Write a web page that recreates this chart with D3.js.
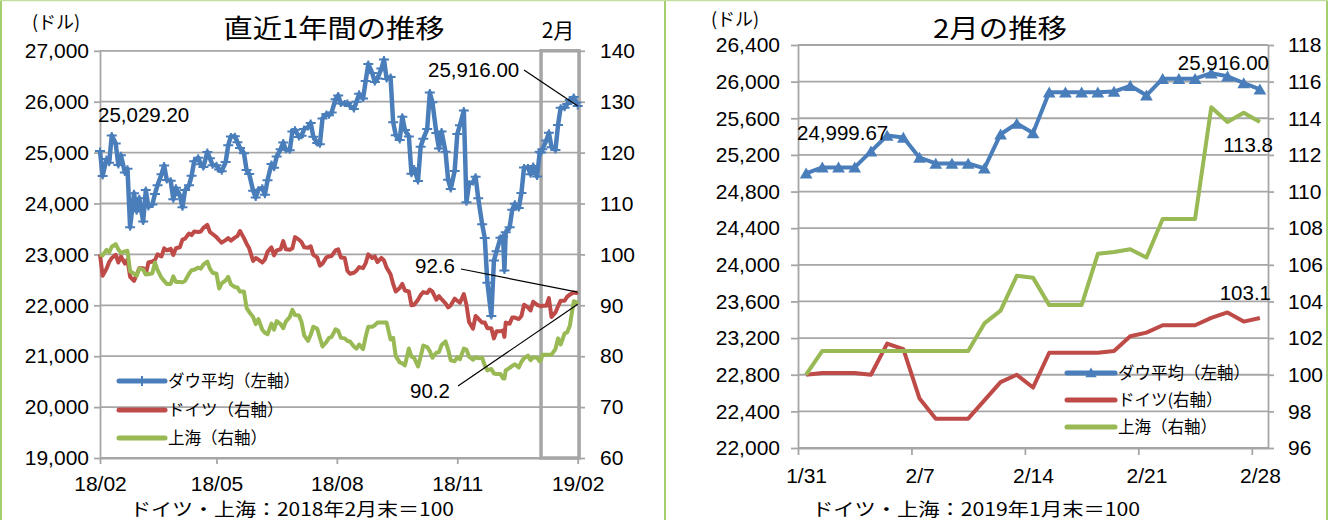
<!DOCTYPE html>
<html><head><meta charset="utf-8">
<script src="https://cdn.jsdelivr.net/npm/d3@7"></script>
<style>
html,body{margin:0;padding:0;background:#fff;}
svg{display:block;}
</style></head><body>
<svg id="c" width="1337" height="520"></svg>
<script>
// ---------- DATA: left chart (last 12 months) ----------
const datesY = ["180228","180302","180305","180307","180309","180312","180314","180316","180319","180321","180323","180326","180328","180330",
"180402","180404","180406","180409","180411","180413","180416","180418","180420","180423","180425","180427","180430",
"180502","180504","180507","180509","180511","180514","180516","180518","180521","180523","180525","180528","180530",
"180601","180604","180606","180608","180611","180613","180615","180618","180620","180622","180625","180627","180629",
"180702","180704","180706","180709","180711","180713","180716","180718","180720","180723","180725","180727","180730",
"180801","180803","180806","180808","180810","180813","180815","180817","180820","180822","180824","180827","180829","180831",
"180903","180905","180907","180910","180912","180914","180917","180919","180921","180924","180926","180928",
"181001","181003","181005","181008","181010","181012","181015","181017","181019","181022","181024","181026","181029","181031",
"181102","181105","181107","181109","181112","181114","181116","181119","181121","181123","181126","181128","181130",
"181203","181205","181207","181210","181212","181214","181217","181219","181221","181224","181226","181228","181231",
"190102","190103","190104","190107","190109","190111","190114","190116","190118","190121","190123","190125","190128","190130","190131",
"190201","190204","190206","190208","190211","190213","190215","190218","190220","190222","190225","190227","190228"];
const dowY = [25029,24538,24874,24801,25335,25178,24758,24946,24610,24683,23533,24202,23849,24103,
23644,24264,23933,23979,24189,24361,24573,24748,24463,24449,24084,24311,24163,
23925,24263,24358,24543,24831,24900,24769,24715,25013,24887,24753,24753,24668,
24635,24814,25146,25317,25322,25201,25090,24988,24657,24580,24252,24117,24271,
24307,24174,24456,24776,24700,24924,25064,25199,25058,25044,25414,25451,25307,
25333,25463,25502,25583,25313,25187,25162,25669,25758,25733,25790,26049,26124,25965,
25965,25975,25917,25857,25999,26154,26062,26405,26743,26562,26385,26458,
26651,26828,26447,26486,25598,25340,25250,25706,25444,25317,24583,24688,24443,25116,
25271,25462,26180,25989,25387,25081,25413,25018,24465,24286,24640,25366,25538,
25826,24027,24389,24423,24527,24101,23593,23324,22445,21792,22878,23062,23327,
23346,22686,23433,23531,23879,23996,23910,24207,24706,24706,24575,24737,24528,25015,25000,
25064,25239,25390,25106,25053,25543,25883,25883,25954,26031,26092,25985,25916];
const daxY = [100,95.8,97.2,98.5,99.3,99.9,98.4,99.6,98.2,99.0,95.6,94.8,96.0,97.3,
97.3,96.1,98.4,98.6,98.9,100.0,99.6,101.2,100.8,101.1,99.9,101.2,101.4,
102.9,103.1,104.1,103.8,104.5,104.4,104.5,105.2,105.8,104.4,104.0,103.4,102.8,
102.3,102.8,103.2,102.7,103.3,103.6,104.6,103.2,102.1,101.2,98.7,99.3,99.0,
98.4,99.0,100.5,101.4,99.8,100.8,101.0,102.6,101.0,100.9,101.2,103.4,102.9,
102.4,101.4,101.3,101.6,99.9,99.4,97.8,98.2,99.4,99.6,99.7,100.8,101.0,99.4,
99.3,96.8,96.2,96.4,96.8,97.5,97.3,98.3,100.0,99.3,99.6,98.5,
99.3,98.8,97.4,96.1,94.2,92.7,93.4,94.2,92.9,92.7,90.0,90.1,91.1,92.0,
92.6,92.4,93.1,92.7,91.1,91.8,91.2,90.4,89.6,90.0,91.3,90.9,90.5,
92.2,90.1,86.7,85.4,87.9,87.4,86.6,86.6,85.5,85.5,83.5,84.9,84.9,
85.1,83.8,86.6,86.4,87.6,87.6,87.3,87.9,90.1,89.6,89.0,90.7,90.1,89.9,89.8,
89.9,89.9,91.4,87.7,88.6,89.8,90.9,90.9,91.7,92.1,92.5,92.4,92.6];
const shY = [100,99.8,100.9,100.4,101.5,102.0,101.0,100.3,100.6,100.7,96.7,96.2,95.8,97.2,
97.0,96.1,96.1,96.3,98.4,96.9,95.4,94.8,94.2,94.2,95.7,94.6,94.6,
94.5,94.8,96.2,96.9,97.0,97.4,97.2,98.0,98.6,97.2,96.4,96.2,93.3,
94.3,94.9,95.6,94.1,93.6,93.5,92.7,92.7,89.5,88.7,87.7,86.3,87.3,
85.2,84.6,84.3,86.4,85.2,86.9,86.3,85.5,86.8,87.7,89.1,88.1,88.0,
86.7,84.1,83.0,84.2,85.8,85.4,83.6,81.9,82.8,83.6,83.8,85.3,85.0,83.6,
83.5,83.0,82.9,81.9,81.5,82.3,81.4,83.8,85.8,85.8,86.1,86.6,
86.6,86.6,86.6,83.3,83.6,80.0,78.8,78.6,78.2,81.5,79.9,79.7,78.0,79.9,
82.1,81.8,81.0,79.7,80.7,80.8,82.2,82.9,81.3,79.2,79.0,79.8,79.4,
81.5,81.3,79.9,79.3,79.8,79.6,79.7,78.2,77.2,77.5,76.6,76.5,76.5,
75.6,75.6,77.2,77.7,78.1,78.4,77.8,78.9,79.6,80.1,79.2,79.8,79.7,79.0,79.3,
80.3,80.3,80.3,80.3,81.4,83.5,82.3,84.5,84.7,86.0,90.8,90.6,90.2];
const yTicksL = [19000,20000,21000,22000,23000,24000,25000,26000,27000];
const yTicksL2 = [60,70,80,90,100,110,120,130,140];
const xTicksL = ["180228","180528","180828","181128","190228"];

// ---------- DATA: right chart (February) ----------
const daysM = ["190131","190201","190202","190203","190204","190205","190206","190207","190208","190209","190210",
"190211","190212","190213","190214","190215","190216","190217","190218","190219","190220","190221","190222","190223","190224",
"190225","190226","190227","190228"];
const dowM = [24999.67,25063.89,25063.89,25063.89,25239.37,25411.52,25390.30,25169.53,25106.33,25106.33,25106.33,
25053.11,25425.76,25543.27,25439.39,25883.25,25883.25,25883.25,25883.25,25891.32,25954.44,25850.63,26031.81,26031.81,26031.81,
26091.95,26057.98,25985.16,25916.00];
const daxM = [100,100.1,100.1,100.1,100.0,101.7,101.4,98.7,97.6,97.6,97.6,
98.6,99.6,100.0,99.3,101.2,101.2,101.2,101.2,101.3,102.1,102.3,102.7,102.7,102.7,
103.1,103.4,102.9,103.1];
const shM = [100,101.3,101.3,101.3,101.3,101.3,101.3,101.3,101.3,101.3,101.3,
102.8,103.5,105.4,105.3,103.8,103.8,103.8,106.6,106.7,106.85,106.4,108.5,108.5,108.5,
114.6,113.8,114.3,113.8];
const yTicksM = [22000,22400,22800,23200,23600,24000,24400,24800,25200,25600,26000,26400];
const yTicksM2 = [96,98,100,102,104,106,108,110,112,114,116,118];
const xTicksM = ["190131","190207","190214","190221","190228"];

const seriesNames = ["ダウ平均（左軸）","ドイツ（右軸）","上海（右軸）"];
const seriesNamesM = ["ダウ平均（左軸）","ドイツ(右軸）","上海（右軸）"];

// ---------- STYLE ----------
const BLUE = "#4a7ebb", RED = "#be4b48", GREEN = "#98b954";
const GRID = "#a6a6a6";
const FN = "'Liberation Sans', Arial, sans-serif";
const FJ = "'Noto Sans CJK JP', 'Noto Sans', sans-serif";

const parse = d3.timeParse("%y%m%d");
const svg = d3.select("#c");
svg.append("rect").attr("width",1337).attr("height",520).attr("fill","#fff");

function styleAxis(sel, size){
  sel.attr("font-size", null).attr("font-family", null);
  sel.select(".domain").attr("stroke", GRID).attr("stroke-width", 1.8);
  sel.selectAll(".tick line").attr("stroke", GRID).attr("stroke-width", 1.8);
  sel.selectAll(".tick text").attr("font-family", FN).attr("font-size", size).attr("fill", "#000");
}
function txt(g, x, y, s, o){
  o = o || {};
  const t = g.append("text").attr("x", x).attr("y", y).text(s)
    .attr("font-family", o.font || FN).attr("font-size", o.size || 20)
    .attr("text-anchor", o.anchor || "start").attr("fill", "#000");
  if (o.len) t.attr("textLength", o.len).attr("lengthAdjust", "spacingAndGlyphs");
  return t;
}
const plusPath = "M-5,0H5M0,-3.5V3.5";

// panel frames
svg.append("line").attr("x1",1).attr("x2",1).attr("y1",0).attr("y2",520).attr("stroke","#a3d06c").attr("stroke-width",2);
svg.append("line").attr("x1",665).attr("x2",665).attr("y1",0).attr("y2",520).attr("stroke","#a3d06c").attr("stroke-width",2);
svg.append("line").attr("x1",1327).attr("x2",1327).attr("y1",0).attr("y2",520).attr("stroke","#a3d06c").attr("stroke-width",2);
svg.append("line").attr("x1",0).attr("x2",1328).attr("y1",0.5).attr("y2",0.5).attr("stroke","#c2e09c").attr("stroke-width",1.5);

// ================= LEFT CHART =================
(function(){
  const g = svg.append("g");
  const xL = d3.scaleTime().domain([parse("180228"), parse("190301")]).range([100, 579]);
  const yL = d3.scaleLinear().domain([19000, 27000]).range([458, 50.8]);
  const yL2 = d3.scaleLinear().domain([60, 140]).range([458, 50.8]);

  g.selectAll("line.grid").data(yTicksL).join("line").attr("class","grid")
    .attr("x1", 100).attr("x2", 579).attr("y1", d => yL(d)).attr("y2", d => yL(d))
    .attr("stroke", GRID).attr("stroke-width", 1.8);

  const aL = g.append("g").attr("transform","translate(100,0)")
    .call(d3.axisLeft(yL).tickValues(yTicksL).tickSize(6).tickPadding(5).tickSizeOuter(0).tickFormat(d3.format(",")));
  styleAxis(aL, 21);
  const aR = g.append("g").attr("transform","translate(579,0)")
    .call(d3.axisRight(yL2).tickValues(yTicksL2).tickSize(6).tickPadding(15).tickSizeOuter(0));
  styleAxis(aR, 21);
  const aX = g.append("g").attr("transform","translate(0,458)")
    .call(d3.axisBottom(xL).tickValues(xTicksL.map(parse)).tickSize(6).tickPadding(12).tickSizeOuter(0).tickFormat(d3.timeFormat("%y/%m")));
  styleAxis(aX, 21);

  // February highlight box
  const bx = xL(parse("190131"));
  g.append("rect").attr("x", bx).attr("y", yL(27000)).attr("width", xL(parse("190301")) - bx)
    .attr("height", yL(19000) - yL(27000)).attr("fill","none").attr("stroke","#a6a6a6").attr("stroke-width",3.5);

  const pts = (vals) => vals.map((v,i) => ({d: parse(datesY[i]), v}));
  const dDow = pts(dowY), dDax = pts(daxY), dSh = pts(shY);
  const lineL = d3.line().x(p => xL(p.d)).y(p => yL(p.v));
  const lineR = d3.line().x(p => xL(p.d)).y(p => yL2(p.v));

  g.append("path").datum(dDow).attr("d", lineL).attr("fill","none").attr("stroke",BLUE).attr("stroke-width",4.5).attr("stroke-linejoin","round");
  g.selectAll("path.mk").data(dDow).join("path").attr("class","mk")
    .attr("transform", p => `translate(${xL(p.d)},${yL(p.v)})`).attr("d", plusPath)
    .attr("stroke", BLUE).attr("stroke-width", 2).attr("fill","none");
  g.append("path").datum(dDax).attr("d", lineR).attr("fill","none").attr("stroke",RED).attr("stroke-width",4).attr("stroke-linejoin","round");
  g.append("path").datum(dSh).attr("d", lineR).attr("fill","none").attr("stroke",GREEN).attr("stroke-width",4).attr("stroke-linejoin","round");

  // annotations
  const last = dDow.length - 1;
  const xe = xL(dDow[last].d);
  txt(g, 98, 122, "25,029.20", {size: 20.5});
  txt(g, 428, 77, "25,916.00", {size: 20.5});
  g.append("line").attr("x1",524).attr("y1",70).attr("x2",xe).attr("y2",yL(dowY[last])).attr("stroke","#000").attr("stroke-width",1.2);
  txt(g, 415, 273, "92.6", {size: 20.5});
  g.append("line").attr("x1",461).attr("y1",269).attr("x2",xe).attr("y2",yL2(daxY[last])).attr("stroke","#000").attr("stroke-width",1.2);
  txt(g, 410, 398, "90.2", {size: 20.5});
  g.append("line").attr("x1",458).attr("y1",386).attr("x2",xe).attr("y2",yL2(shY[last])).attr("stroke","#000").attr("stroke-width",1.2);

  // titles
  txt(g, 334, 38, "直近1年間の推移", {font: FJ, size: 26, anchor: "middle", len: 221});
  txt(g, 32, 29, "(ドル)", {font: FJ, size: 18});
  txt(g, 558, 38, "2月", {font: FJ, size: 21, anchor: "middle"});
  txt(g, 292, 516, "ドイツ・上海：2018年2月末＝100", {font: FJ, size: 18, anchor: "middle", len: 324});

  // legend
  const cols = [BLUE, RED, GREEN];
  const ly = [381, 410, 438];
  seriesNames.forEach((n,i) => {
    g.append("line").attr("x1",119).attr("x2",165).attr("y1",ly[i]).attr("y2",ly[i])
      .attr("stroke",cols[i]).attr("stroke-width",5).attr("stroke-linecap","round");
    if (i === 0) g.append("path").attr("transform",`translate(142,${ly[i]})`).attr("d","M0,-5V5").attr("stroke",BLUE).attr("stroke-width",2);
    txt(g, 168, ly[i] + 6, n, {font: FJ, size: 16.5});
  });
})();

// ================= RIGHT CHART =================
(function(){
  const g = svg.append("g");
  const xR = d3.scaleTime().domain([parse("190131"), parse("190301")]).range([798, 1268]);
  const yR = d3.scaleLinear().domain([22000, 26400]).range([448, 45]);
  const yR2 = d3.scaleLinear().domain([96, 118]).range([448, 45]);
  const half = (xR(parse("190201")) - xR(parse("190131"))) / 2;

  g.selectAll("line.grid").data(yTicksM).join("line").attr("class","grid")
    .attr("x1", 798).attr("x2", 1268).attr("y1", d => yR(d)).attr("y2", d => yR(d))
    .attr("stroke", GRID).attr("stroke-width", 1.8);

  const aL = g.append("g").attr("transform","translate(798,0)")
    .call(d3.axisLeft(yR).tickValues(yTicksM).tickSize(7).tickPadding(11).tickSizeOuter(0).tickFormat(d3.format(",")));
  styleAxis(aL, 21);
  const aR = g.append("g").attr("transform","translate(1268,0)")
    .call(d3.axisRight(yR2).tickValues(yTicksM2).tickSize(6).tickPadding(14).tickSizeOuter(0));
  styleAxis(aR, 21);
  const aX = g.append("g").attr("transform","translate(0,448)")
    .call(d3.axisBottom(xR).tickValues(xTicksM.map(parse)).tickSize(7).tickPadding(13).tickSizeOuter(0).tickFormat(d3.timeFormat("%-m/%-d")));
  styleAxis(aX, 21);
  aX.selectAll(".tick text").attr("x", half);

  const pts = (vals) => vals.map((v,i) => ({d: parse(daysM[i]), v}));
  const dDow = pts(dowM), dDax = pts(daxM), dSh = pts(shM);
  const X = p => xR(p.d) + half;
  const lineL = d3.line().x(X).y(p => yR(p.v));
  const lineR = d3.line().x(X).y(p => yR2(p.v));

  g.append("path").datum(dDow).attr("d", lineL).attr("fill","none").attr("stroke",BLUE).attr("stroke-width",4).attr("stroke-linejoin","round");
  g.selectAll("path.mk").data(dDow).join("path").attr("class","mk")
    .attr("transform", p => `translate(${X(p)},${yR(p.v)+1.5})`).attr("d", d3.symbol(d3.symbolTriangle, 70))
    .attr("fill", BLUE);
  g.append("path").datum(dDax).attr("d", lineR).attr("fill","none").attr("stroke",RED).attr("stroke-width",4).attr("stroke-linejoin","round");
  g.append("path").datum(dSh).attr("d", lineR).attr("fill","none").attr("stroke",GREEN).attr("stroke-width",4).attr("stroke-linejoin","round");

  txt(g, 797, 140, "24,999.67", {size: 20.5});
  txt(g, 1269, 70, "25,916.00", {size: 20.5, anchor: "end"});
  txt(g, 1273, 152, "113.8", {size: 20.5, anchor: "end"});
  txt(g, 1271, 300, "103.1", {size: 20.5, anchor: "end"});

  txt(g, 1000, 38, "2月の推移", {font: FJ, size: 26, anchor: "middle", len: 134});
  txt(g, 711, 26, "(ドル)", {font: FJ, size: 18});
  txt(g, 976, 516, "ドイツ・上海：2019年1月末＝100", {font: FJ, size: 18, anchor: "middle", len: 328});

  const cols = [BLUE, RED, GREEN];
  const ly = [373, 400, 427];
  seriesNamesM.forEach((n,i) => {
    g.append("line").attr("x1",1067).attr("x2",1115).attr("y1",ly[i]).attr("y2",ly[i])
      .attr("stroke",cols[i]).attr("stroke-width",5).attr("stroke-linecap","round");
    if (i === 0) g.append("path").attr("transform",`translate(1091,${ly[i]+1})`).attr("d", d3.symbol(d3.symbolTriangle, 55)).attr("fill",BLUE);
    txt(g, 1118, ly[i] + 6, n, {font: FJ, size: 16.5});
  });
})();
</script>
</body></html>
